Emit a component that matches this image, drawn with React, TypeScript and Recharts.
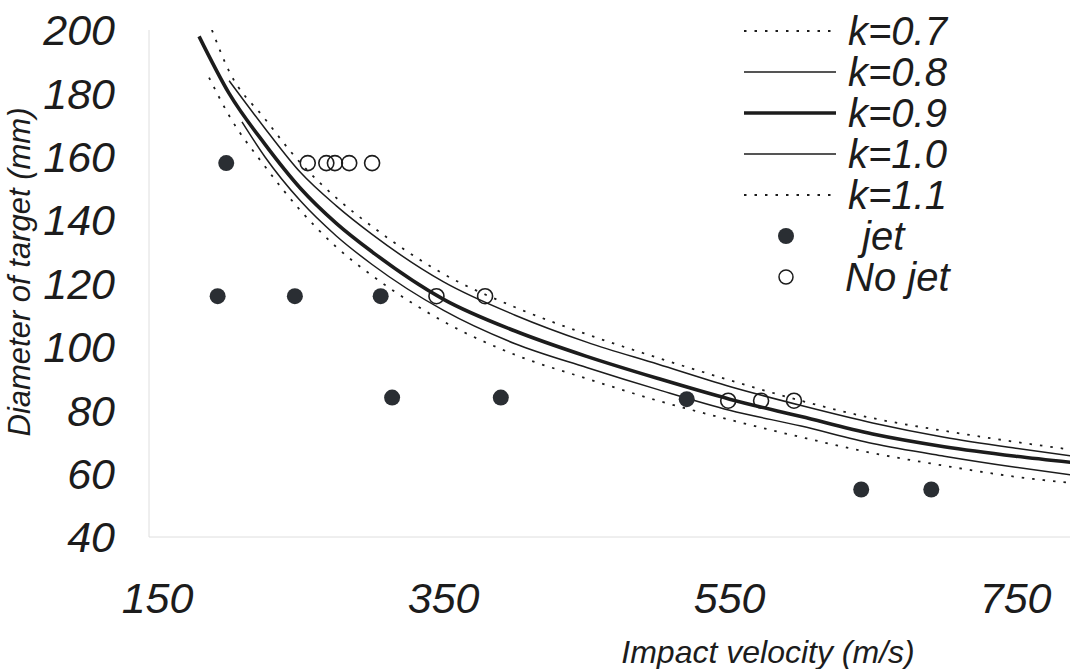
import React from "react";
import { ComposedChart, Line, Scatter, XAxis, YAxis, Legend } from "recharts";

// curve samples: velocity (m/s) -> diameter (mm)
const k07V = [188, 200, 225, 250, 275, 300, 350, 400, 450, 500, 550, 600, 650, 700, 750, 790];
const k07D = [200, 187, 172, 158, 147, 138, 123, 112.5, 104, 96.5, 89.5, 83, 77.5, 73.5, 70, 67.5];

const k08V = [200, 225, 250, 275, 300, 350, 400, 450, 500, 550, 600, 650, 700, 750, 790];
const k08D = [184, 169, 155, 144.5, 135.5, 120.5, 110, 101.5, 94.5, 87.5, 81.5, 76, 71.5, 68, 65.5];

const k09V = [179, 200, 225, 250, 275, 300, 350, 400, 450, 500, 550, 600, 650, 700, 750, 790];
const k09D = [198, 180, 164, 150, 139, 130, 115, 105, 97, 90, 83.5, 78, 72.5, 68.5, 65.5, 63.5];

const k10V = [209, 225, 250, 275, 300, 350, 400, 450, 500, 550, 600, 650, 700, 750, 790];
const k10D = [171, 160, 146, 135, 126, 111.5, 101, 93.5, 86.5, 80, 75, 69.5, 65.5, 62, 59.5];

const k11V = [186, 200, 225, 250, 275, 300, 350, 400, 450, 500, 550, 600, 650, 700, 750, 790];
const k11D = [185, 173, 157, 143, 131.5, 122.5, 108, 97.5, 90, 83, 77, 71.5, 66.5, 62.5, 59, 57];

// test results
const jetV = [198, 192, 246, 306, 314, 390, 520, 642, 691];
const jetD = [158, 116, 116, 116, 84, 84, 83.5, 55, 55];

const noJetV = [255, 268, 274, 284, 300, 345, 379, 549, 572, 595];
const noJetD = [158, 158, 158, 158, 158, 116, 116, 83, 83, 83];

const xTicks = [150, 350, 550, 750];
const yTicks = [40, 60, 80, 100, 120, 140, 160, 180, 200];

const legendOrder = ["k=0.7", "k=0.8", "k=0.9", "k=1.0", "k=1.1", "jet", "No jet"];

const FONT = "'Liberation Sans', Arial, Helvetica, sans-serif";
const INK = "#1c1c1c";

const toPoints = (v: number[], d: number[]) => v.map((x, i) => ({ v: x, d: d[i] }));

const curves = [
  { name: "k=0.7", data: toPoints(k07V, k07D), width: 1.8, dash: "2.5 8" },
  { name: "k=0.8", data: toPoints(k08V, k08D), width: 1.5, dash: undefined },
  { name: "k=0.9", data: toPoints(k09V, k09D), width: 3.6, dash: undefined },
  { name: "k=1.0", data: toPoints(k10V, k10D), width: 1.5, dash: undefined },
  { name: "k=1.1", data: toPoints(k11V, k11D), width: 1.8, dash: "2.5 8" },
];

const jetData = toPoints(jetV, jetD);
const noJetData = toPoints(noJetV, noJetD);

const JetDot = (props: any) => (
  <circle cx={props.cx} cy={props.cy} r={8} fill="#2a2e33" />
);

const NoJetDot = (props: any) => (
  <circle cx={props.cx} cy={props.cy} r={7.5} fill="none" stroke={INK} strokeWidth={1.6} />
);

const lineStyle: Record<string, { width: number; dash?: string }> = {};
curves.forEach((c) => (lineStyle[c.name] = { width: c.width, dash: c.dash }));

const renderLegend = (props: any) => {
  const items = [...(props.payload || [])].sort(
    (a: any, b: any) => legendOrder.indexOf(a.value) - legendOrder.indexOf(b.value)
  );
  return (
    <div style={{ fontFamily: FONT, fontStyle: "italic", fontSize: 40, color: INK }}>
      {items.map((it: any) => {
        const ls = lineStyle[it.value];
        const pad = it.value === "jet" ? 14 : it.value === "No jet" ? -3 : 0;
        return (
          <div key={it.value} style={{ display: "flex", alignItems: "center", height: 41 }}>
            <svg width={108} height={41}>
              {ls ? (
                <line
                  x1={4}
                  x2={96}
                  y1={21}
                  y2={21}
                  stroke={INK}
                  strokeWidth={ls.width}
                  strokeDasharray={ls.dash}
                />
              ) : it.value === "jet" ? (
                <circle cx={46} cy={21} r={8} fill="#2a2e33" />
              ) : (
                <circle cx={46} cy={21} r={7} fill="none" stroke={INK} strokeWidth={1.5} />
              )}
            </svg>
            <span style={{ marginLeft: pad, lineHeight: "38px", height: 38 }}>{it.value}</span>
          </div>
        );
      })}
    </div>
  );
};

const XLabel = () => (
  <text
    x={768}
    y={663}
    textAnchor="middle"
    fontFamily={FONT}
    fontStyle="italic"
    fontSize={32}
    fill={INK}
  >
    Impact velocity (m/s)
  </text>
);

const YLabel = () => (
  <text
    x={0}
    y={0}
    transform="translate(30, 272) rotate(-90)"
    textAnchor="middle"
    fontFamily={FONT}
    fontStyle="italic"
    fontSize={31}
    fill={INK}
  >
    Diameter of target (mm)
  </text>
);

const tickStyle = { fontSize: 43, fontStyle: "italic", fontFamily: FONT, fill: INK };

export default function App() {
  return (
    <div style={{ width: 1070, height: 669, background: "#fff" }}>
      <style>{`body{margin:0}`}</style>
      <ComposedChart width={1070} height={669} margin={{ top: 30, right: 0, bottom: 0, left: 0 }}>
        <XAxis
          type="number"
          dataKey="v"
          domain={[144, 788]}
          ticks={xTicks}
          allowDataOverflow
          height={132}
          tickSize={0}
          tickMargin={45}
          tick={tickStyle}
          axisLine={{ stroke: "#dedede" }}
          label={<XLabel />}
        />
        <YAxis
          type="number"
          dataKey="d"
          domain={[40, 200]}
          ticks={yTicks}
          allowDataOverflow
          width={149}
          tickSize={0}
          tickMargin={34}
          tick={tickStyle}
          axisLine={{ stroke: "#dedede" }}
          label={<YLabel />}
        />
        {curves.map((c) => (
          <Line
            key={c.name}
            name={c.name}
            data={c.data}
            dataKey="d"
            type="monotone"
            stroke={INK}
            strokeWidth={c.width}
            strokeDasharray={c.dash}
            dot={false}
            activeDot={false}
            isAnimationActive={false}
          />
        ))}
        <Scatter
          name="jet"
          data={jetData}
          dataKey="d"
          shape={<JetDot />}
          isAnimationActive={false}
        />
        <Scatter
          name="No jet"
          data={noJetData}
          dataKey="d"
          shape={<NoJetDot />}
          isAnimationActive={false}
        />
        <Legend
          layout="horizontal"
          verticalAlign="middle"
          align="center"
          content={renderLegend}
          wrapperStyle={{ position: "absolute", top: 10, left: 740, width: 320, height: 290 }}
        />
      </ComposedChart>
    </div>
  );
}
